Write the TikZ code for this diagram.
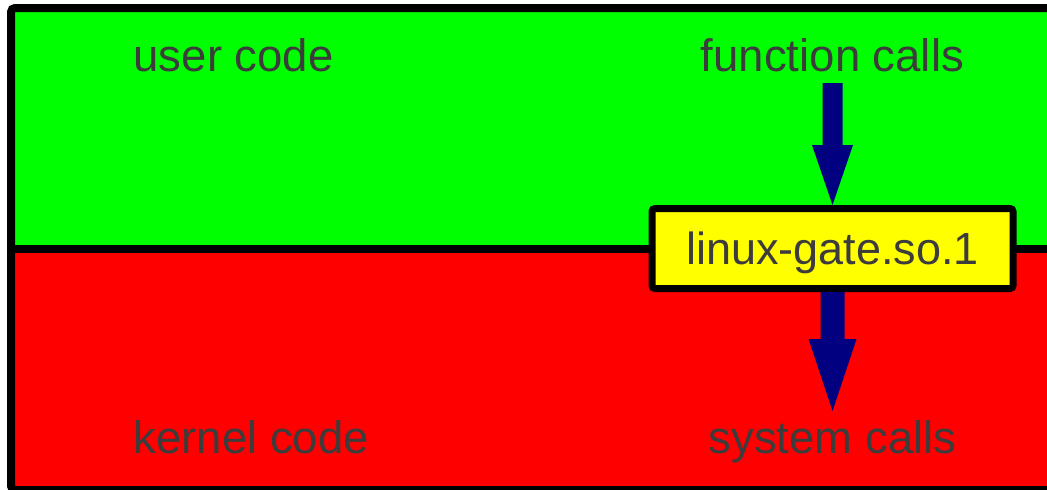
\documentclass[tikz,border=0pt]{standalone}
\usepackage{fontspec}
\setmainfont{Liberation Sans}
\usetikzlibrary{calc}
\definecolor{ugreen}{RGB}{0,255,0}
\definecolor{kred}{RGB}{255,0,0}
\definecolor{gyellow}{RGB}{255,255,0}
\definecolor{anavy}{RGB}{0,0,128}
\definecolor{txt}{RGB}{60,60,60}
\begin{document}
\begin{tikzpicture}[x=1pt,y=-1pt,
  lbl/.style={text=txt,font=\fontsize{45.5}{54}\selectfont,inner sep=0pt},
  gatebox/.style={draw=black,fill=gyellow,line width=7pt,rounded corners=3pt,
    minimum width=361pt,minimum height=80pt,inner sep=0pt,
    text height=33pt,text depth=2pt,text=txt,font=\fontsize{45}{54}\selectfont},
  border/.style={draw=black,line width=8pt},
  blockarrow/.style={fill=anavy}]
\useasboundingbox (0,0) rectangle (1047,490);
\clip (0,0) rectangle (1047,490);
\fill[ugreen] (11,8) rectangle (1070,249);
\fill[kred] (11,249) rectangle (1070,494);
\draw[border,rounded corners=4pt] (11,8) rectangle (1070,490);
\draw[border] (11,249) -- (1070,249);
\node[lbl,anchor=base west] (user) at (133.5,71) {user code};
\node[lbl,anchor=base] (fcalls) at (832.5,71) {function calls};
\node[lbl,anchor=base west] (kernel) at (133.5,453) {kernel code};
\node[lbl,anchor=base] (scalls) at (832.5,453) {system calls};
\node[gatebox] (gate) at (832.5,248.5) {linux-gate.so.1};
\coordinate (a1) at (832.5,83);
\coordinate (a2) at (832.5,411);
% upper block arrow: function calls -> gate
\fill[blockarrow] ($(a1)+(-10,0)$) -- ($(a1)+(10,0)$) -- ($(gate.north)+(10,-60)$)
  -- ($(gate.north)+(20.5,-60)$) -- (gate.north) -- ($(gate.north)+(-20.5,-60)$)
  -- ($(gate.north)+(-10,-60)$) -- cycle;
% lower block arrow: gate -> system calls
\fill[blockarrow] ($(gate.south)+(-12,0)$) -- ($(gate.south)+(12,0)$) -- ($(a2)+(12,-72)$)
  -- ($(a2)+(24,-72)$) -- (a2) -- ($(a2)+(-24,-72)$) -- ($(a2)+(-12,-72)$) -- cycle;
\end{tikzpicture}
\end{document}
